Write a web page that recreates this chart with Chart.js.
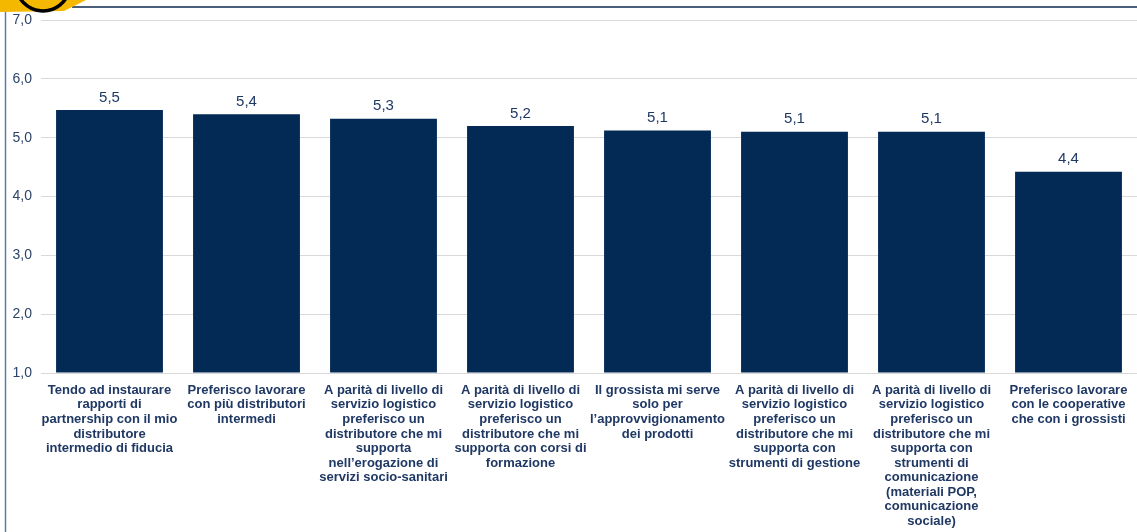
<!DOCTYPE html>
<html>
<head>
<meta charset="utf-8">
<script src="https://cdn.jsdelivr.net/npm/chart.js@4.4.0/dist/chart.umd.min.js"></script>
<style>
  html, body { margin: 0; padding: 0; background: #fff; }
  #wrap { width: 1137px; height: 532px; position: relative; }
</style>
</head>
<body>
<div id="wrap"><canvas id="bar1"></canvas></div>
<script>
var categories = [
    ['Tendo ad instaurare', 'rapporti di', 'partnership con il mio', 'distributore', 'intermedio di fiducia'],
    ['Preferisco lavorare', 'con più distributori', 'intermedi'],
    ['A parità di livello di', 'servizio logistico', 'preferisco un', 'distributore che mi', 'supporta', 'nell\u2019erogazione di', 'servizi socio-sanitari'],
    ['A parità di livello di', 'servizio logistico', 'preferisco un', 'distributore che mi', 'supporta con corsi di', 'formazione'],
    ['Il grossista mi serve', 'solo per', 'l\u2019approvvigionamento', 'dei prodotti'],
    ['A parità di livello di', 'servizio logistico', 'preferisco un', 'distributore che mi', 'supporta con', 'strumenti di gestione'],
    ['A parità di livello di', 'servizio logistico', 'preferisco un', 'distributore che mi', 'supporta con', 'strumenti di', 'comunicazione', '(materiali POP,', 'comunicazione', 'sociale)'],
    ['Preferisco lavorare', 'con le cooperative', 'che con i grossisti']
];
var values = [5.47, 5.40, 5.32, 5.20, 5.12, 5.10, 5.10, 4.42];
var yTicks = [1, 2, 3, 4, 5, 6, 7];

var navy = '#032955';
var textCol = '#1f3864';

// cornice e logo in alto a sinistra
var frame = {
    id: 'frame',
    beforeDraw: function (chart) {
        var ctx = chart.ctx;
        ctx.save();
        ctx.strokeStyle = '#5b7bab';
        ctx.lineWidth = 1.5;
        ctx.beginPath();
        ctx.moveTo(5.5, 10);
        ctx.lineTo(5.5, 532);
        ctx.stroke();
        ctx.strokeStyle = '#0d2a50';
        ctx.lineWidth = 1.5;
        ctx.beginPath();
        ctx.moveTo(72, 7);
        ctx.lineTo(1137, 7);
        ctx.stroke();
        ctx.fillStyle = '#f5b800';
        ctx.beginPath();
        ctx.moveTo(0, 0);
        ctx.lineTo(86, 0);
        ctx.lineTo(74, 6);
        ctx.lineTo(64, 11);
        ctx.lineTo(0, 12);
        ctx.closePath();
        ctx.fill();
        ctx.strokeStyle = '#000';
        ctx.lineWidth = 3.5;
        ctx.beginPath();
        ctx.arc(43, -16, 27, 0.1, Math.PI - 0.1);
        ctx.stroke();
        ctx.restore();
    }
};

var valueLabels = {
    id: 'valueLabels',
    afterDatasetsDraw: function (chart) {
        var ctx = chart.ctx;
        var meta = chart.getDatasetMeta(0);
        ctx.save();
        ctx.font = '15px "Liberation Sans", Arial, sans-serif';
        ctx.fillStyle = textCol;
        ctx.textAlign = 'center';
        ctx.textBaseline = 'bottom';
        meta.data.forEach(function (bar, i) {
            ctx.fillText(values[i].toFixed(1).replace('.', ','), bar.x, bar.y - 5);
        });
        ctx.restore();
    }
};

var barChartCanvas = document.getElementById('bar1').getContext('2d');
var barChart = new Chart(barChartCanvas, {
    type: 'bar',
    data: {
        labels: categories,
        datasets: [{
            data: values,
            backgroundColor: navy,
            borderWidth: 0,
            categoryPercentage: 1,
            barPercentage: 0.78,
            base: 1
        }]
    },
    options: {
        responsive: true,
        maintainAspectRatio: false,
        animation: false,
        layout: { padding: { top: 20, right: 0, left: 0, bottom: 0 } },
        plugins: {
            legend: { display: false },
            tooltip: { enabled: false }
        },
        scales: {
            y: {
                min: 1,
                max: 7,
                afterFit: function (scale) { scale.width = 41; },
                afterBuildTicks: function (scale) {
                    scale.ticks = yTicks.map(function (v) { return { value: v }; });
                },
                border: { display: false },
                grid: { color: '#d9d9d9', lineWidth: 1, drawTicks: false },
                ticks: {
                    padding: 9,
                    color: '#2c4468',
                    font: { family: '"Liberation Sans", Arial, sans-serif', size: 14 },
                    callback: function (v) { return v.toFixed(1).replace('.', ','); }
                }
            },
            x: {
                afterFit: function (scale) { scale.height = 159; },
                border: { display: false },
                grid: { display: false },
                ticks: {
                    padding: 2,
                    maxRotation: 0,
                    autoSkip: false,
                    color: textCol,
                    font: { family: '"Liberation Sans", Arial, sans-serif', size: 13, weight: 'bold', lineHeight: 1.12 }
                }
            }
        }
    },
    plugins: [frame, valueLabels]
});
</script>
</body>
</html>
